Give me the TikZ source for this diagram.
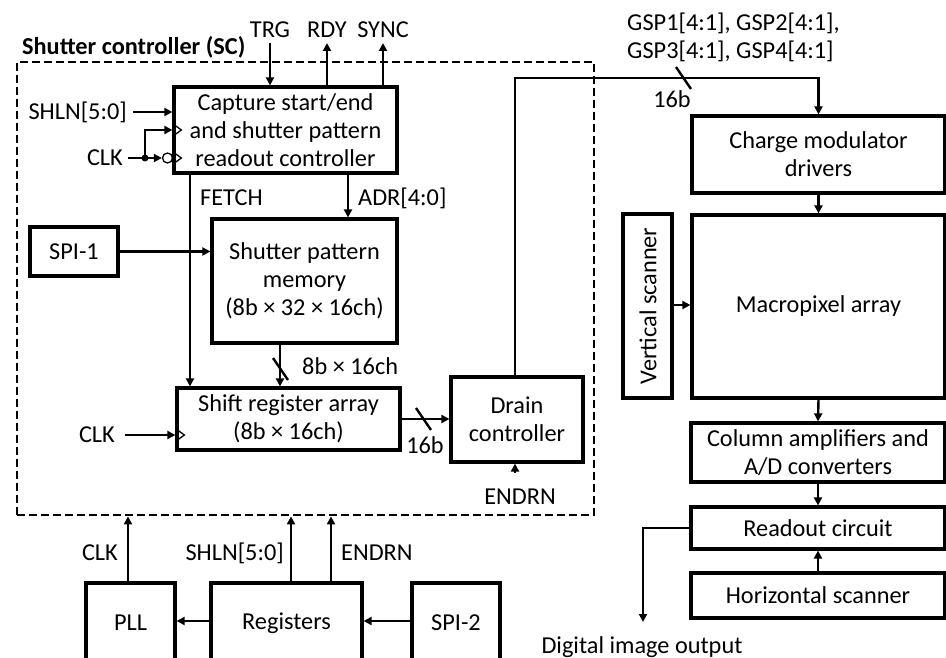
\documentclass[tikz,border=0pt]{standalone}
\usepackage{fontspec}
\setmainfont{Carlito}
\usetikzlibrary{arrows.meta}
\begin{document}
\begin{tikzpicture}[x=1pt,y=-1pt,
  every node/.style={font=\fontsize{24.3}{28}\selectfont, inner sep=0pt},
  box/.style={draw, line width=3.2pt, align=center},
  arr/.style={line width=2.4pt, -{Triangle[length=8pt,width=8pt]}},
  wire/.style={line width=2.4pt},
  slash/.style={line width=2.4pt},
  clkmark/.style={line width=1.3pt, line join=miter},
  dbox/.style={draw, line width=2.8pt, dash pattern=on 8pt off 4pt}]
\useasboundingbox (0,0) rectangle (946,658);
\clip (0,0) rectangle (946,658);

% dashed shutter controller frame
\node[dbox, minimum width=577pt, minimum height=453pt] (sc) at (305.5,288.5) {};
\node[font=\fontsize{24.3}{28}\selectfont\bfseries, anchor=west] (sctitle) at (22,47) {Shutter controller (SC)};

% boxes
\node[box, minimum width=223pt, minimum height=86pt] (cap) at (285.5,130) {Capture start/end\\and shutter pattern\\readout controller};
\node[box, minimum width=88pt, minimum height=49pt] (spi1) at (74,251.5) {SPI-1};
\node[box, minimum width=185pt, minimum height=124pt] (mem) at (304.5,281) {Shutter pattern\\memory\\(8b × 32 × 16ch)};
\node[box, minimum width=223pt, minimum height=62pt] (shift) at (288.5,419) {Shift register array\\(8b × 16ch)};
\node[box, minimum width=132pt, minimum height=85pt] (drain) at (517,419.5) {Drain\\controller};

\node[box, minimum width=253pt, minimum height=77pt] (charge) at (818.5,154.5) {Charge modulator\\drivers};
\node[box, minimum width=253pt, minimum height=183pt] (macro) at (818.5,306.5) {Macropixel array};
\node[box, minimum width=49pt, minimum height=184pt] (vs) at (647.5,306) {};
\node[rotate=90] (vstext) at (648,306) {Vertical scanner};
\node[box, minimum width=254pt, minimum height=59pt] (col) at (818,452.5) {Column amplifiers and\\A/D converters};
\node[box, minimum width=254pt, minimum height=42pt] (ro) at (818,528) {Readout circuit};
\node[box, minimum width=254pt, minimum height=45pt] (hs) at (818,595.5) {Horizontal scanner};

\node[box, minimum width=89pt, minimum height=80pt] (pll) at (130.5,623) {PLL};
\node[box, minimum width=151pt, minimum height=80pt] (reg) at (286.5,623) {Registers};
\node[box, minimum width=88pt, minimum height=80pt] (spi2) at (456,623) {SPI-2};

% top signals
\node (trg) at (270,30) {TRG};
\node (rdy) at (327,30) {RDY};
\node (sync) at (383,30) {SYNC};
\draw[arr] (trg.south |- 0,43) -- (trg.south |- cap.north);
\draw[arr] (rdy.south |- cap.north) -- (rdy.south |- 0,43);
\draw[arr] (sync.south |- cap.north) -- (sync.south |- 0,43);

% SHLN and CLK inputs to capture controller
\node[anchor=east] (shln) at (127,112) {SHLN[5:0]};
\draw[arr] ([xshift=6pt]shln.east) -- (shln.east -| cap.west);
\node[anchor=east] (clka) at (123,158) {CLK};
\coordinate (dot) at (145,158);
\draw[wire] ([xshift=5pt]clka.east) -- (dot);
\fill (dot) circle (3.5pt);
\node[draw, circle, line width=1.3pt, minimum size=10pt] (bubble) at (167.5,158) {};
\draw[arr] (dot) -- (bubble.west);
\draw[arr] (dot) |- (cap.west |- 0,130);
\draw[clkmark] (cap.west |- 0,123.5) -- ++(9,6.5) -- ++(-9,6.5);
\draw[clkmark] (cap.west |- 0,151.5) -- ++(9,6.5) -- ++(-9,6.5);

% FETCH / ADR
\draw[arr] (cap.south -| 190,0) -- (shift.north -| 190,0);
\node[anchor=west] (fetch) at (200,198) {FETCH};
\draw[arr] (cap.south -| 348,0) -- (mem.north -| 348,0);
\node[anchor=west] (adr) at (358,198) {ADR[4:0]};

% SPI-1 to memory
\draw[arr] (spi1.east) -- (spi1.east -| mem.west);

% memory to shift register
\draw[arr] (mem.south -| 280,0) -- (shift.north -| 280,0);
\draw[slash] (273,358) -- (288,380);
\node[anchor=west] (w8b) at (302,366) {8b × 16ch};

% CLK to shift register
\node[anchor=east] (clkb) at (115,435) {CLK};
\draw[arr] ([xshift=10pt]clkb.east) -- (clkb.east -| shift.west);
\draw[clkmark] (shift.west |- 0,428.5) -- ++(9,6.5) -- ++(-9,6.5);

% shift register to drain controller
\draw[arr] (shift.east) -- (shift.east -| drain.west);
\draw[slash] (416,408) -- (431,430);
\node (w16a) at (425,445) {16b};

% ENDRN to drain
\node (endrna) at (520,497) {ENDRN};
\draw[arr] (515,473) -- (drain.south -| 515,0);

% drain to charge modulator drivers
\draw[arr] (drain.north -| 515,0) |- (charge.north |- 0,78) -- (charge.north);
\draw[slash] (676,67) -- (691,89);
\node (w16b) at (672,99) {16b};
\node[anchor=west, align=left] (gsp) at (627,37) {GSP1[4:1], GSP2[4:1],\\GSP3[4:1], GSP4[4:1]};

% right chain
\draw[arr] (charge.south) -- (macro.north);
\draw[arr] (vs.east |- 0,305) -- (macro.west |- 0,305);
\draw[arr] (macro.south) -- (col.north);
\draw[arr] (col.south) -- (ro.north);
\draw[arr] (hs.north) -- (ro.south);
\node (dio) at (642,647) {Digital image output};
\coordinate (dioend) at (643,622);
\draw[arr] (ro.west) -| (dioend);

% bottom: PLL / registers / SPI-2
\draw[arr] (pll.north -| 128,0) -- (sc.south -| 128,0);
\node[anchor=east] (clkc) at (118,553) {CLK};
\draw[arr] (reg.north -| 291,0) -- (sc.south -| 291,0);
\node[anchor=east] (shlnb) at (284,553) {SHLN[5:0]};
\draw[arr] (reg.north -| 331,0) -- (sc.south -| 331,0);
\node[anchor=west] (endrnb) at (341,553) {ENDRN};
\draw[arr] (reg.west |- 0,621) -- (pll.east |- 0,621);
\draw[arr] (spi2.west |- 0,621) -- (reg.east |- 0,621);
\end{tikzpicture}
\end{document}
